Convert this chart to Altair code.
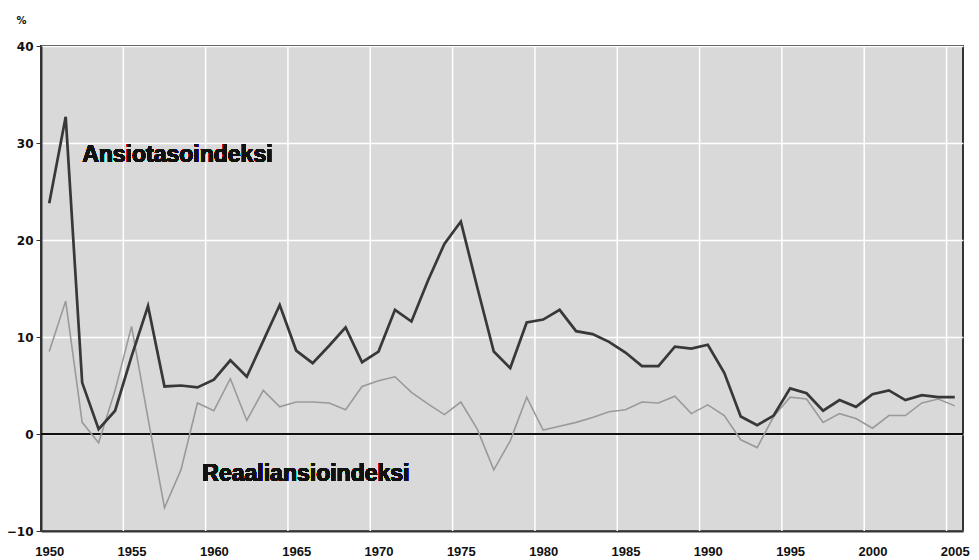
import altair as alt
import pandas as pd

years = list(range(1950, 2006))
ansiotaso = [23.8, 32.7, 5.3, 0.5, 2.4, 8.0, 13.2, 4.9, 5.0, 4.8,
             5.6, 7.6, 5.9, 9.6, 13.3, 8.6, 7.3, 9.1, 11.0, 7.4,
             8.5, 12.8, 11.6, 15.8, 19.6, 21.9, 15.1, 8.5, 6.8, 11.5,
             11.8, 12.8, 10.6, 10.3, 9.5, 8.4, 7.0, 7.0, 9.0, 8.8,
             9.2, 6.3, 1.8, 0.9, 1.9, 4.7, 4.2, 2.4, 3.5, 2.8,
             4.1, 4.5, 3.5, 4.0, 3.8, 3.8]
reaali = [8.5, 13.7, 1.2, -0.9, 4.5, 11.1, 1.6, -7.6, -3.7, 3.2,
          2.4, 5.7, 1.4, 4.5, 2.8, 3.3, 3.3, 3.2, 2.5, 4.9,
          5.5, 5.9, 4.3, 3.1, 2.0, 3.3, 0.5, -3.7, -0.7, 3.8,
          0.4, 0.8, 1.2, 1.7, 2.3, 2.5, 3.3, 3.2, 3.9, 2.1,
          3.0, 1.9, -0.6, -1.4, 1.8, 3.8, 3.6, 1.2, 2.1, 1.6,
          0.6, 1.9, 1.9, 3.2, 3.6, 2.9]
tick_years = [1950, 1955, 1960, 1965, 1970, 1975, 1980, 1985, 1990, 1995, 2000, 2005]
y_ticks = [-10, 0, 10, 20, 30, 40]
label_ansio = "Ansiotasoindeksi"
label_reaali = "Reaaliansioindeksi"

df = pd.DataFrame({"vuosi": years, "Ansiotasoindeksi": ansiotaso, "Reaaliansioindeksi": reaali})
bounds = pd.DataFrame({"b": [y - 0.5 for y in years if (y - 1950) % 5 == 0 and y > 1950]})

xscale = alt.Scale(domain=[1949.5, 2005.5], nice=False, zero=False)
yscale = alt.Scale(domain=[-10, 40], nice=False)

FONT = "DejaVu Sans"

xaxis = alt.Axis(values=tick_years, format="d", title=None, grid=False, ticks=False,
                 tickSize=0, labelPadding=14, labelFont="Liberation Sans", labelFontWeight="bold",
                 labelFontSize=13, labelColor="#111", domainColor="#333", domainWidth=2,
                 labelFlush=False, labelOverlap=False)
yaxis = alt.Axis(values=y_ticks, title="%", titleAngle=0, titleX=-20, titleY=-26,
                 titleAlign="center", titleBaseline="middle", titleFont=FONT,
                 titleFontSize=10, titleFontWeight="bold", titleColor="#111",
                 grid=True, gridColor="white", gridWidth=1.5,
                 ticks=True, tickSize=5, tickColor="#333", labelPadding=3,
                 labelFont=FONT, labelFontWeight="bold", labelFontSize=12, labelColor="#111",
                 domainColor="#333", domainWidth=2)

base = alt.Chart(df)

vgrid = alt.Chart(bounds).mark_rule(color="white", strokeWidth=1.5).encode(
    x=alt.X("b:Q", scale=xscale, axis=xaxis)
)

zero = alt.Chart(df).mark_rule(color="#111", strokeWidth=1.5).encode(
    y=alt.datum(0, scale=yscale)
)

light = base.mark_line(color="#9a9a9a", strokeWidth=1.6).encode(
    x=alt.X("vuosi:Q", scale=xscale, axis=xaxis),
    y=alt.Y("Reaaliansioindeksi:Q", scale=yscale, axis=yaxis),
)
dark = base.mark_line(color="#383838", strokeWidth=2.7).encode(
    x=alt.X("vuosi:Q", scale=xscale, axis=xaxis),
    y=alt.Y("Ansiotasoindeksi:Q", scale=yscale, axis=yaxis),
)

txt1 = alt.Chart(df).mark_text(text=label_ansio, font="Liberation Sans", fontWeight="bold",
                               fontSize=23, align="left", baseline="alphabetic", color="#111").encode(
    x=alt.datum(1952.0, scale=xscale), y=alt.datum(28.05, scale=yscale)
)
txt2 = alt.Chart(df).mark_text(text=label_reaali, font="Liberation Sans", fontWeight="bold",
                               fontSize=23, align="left", baseline="alphabetic", color="#111").encode(
    x=alt.datum(1959.3, scale=xscale), y=alt.datum(-4.88, scale=yscale)
)

chart = alt.layer(vgrid, zero, light, dark, txt1, txt2).properties(
    width=922, height=485,
    autosize=alt.AutoSizeParams(type="none"),
    padding={"left": 33, "top": 38, "right": 8, "bottom": 26},
    background="white",
).configure_view(fill="#d9d9d9", stroke="#333333", strokeWidth=2)

chart.save("out.html", embed_options={"renderer": "svg", "actions": False})
